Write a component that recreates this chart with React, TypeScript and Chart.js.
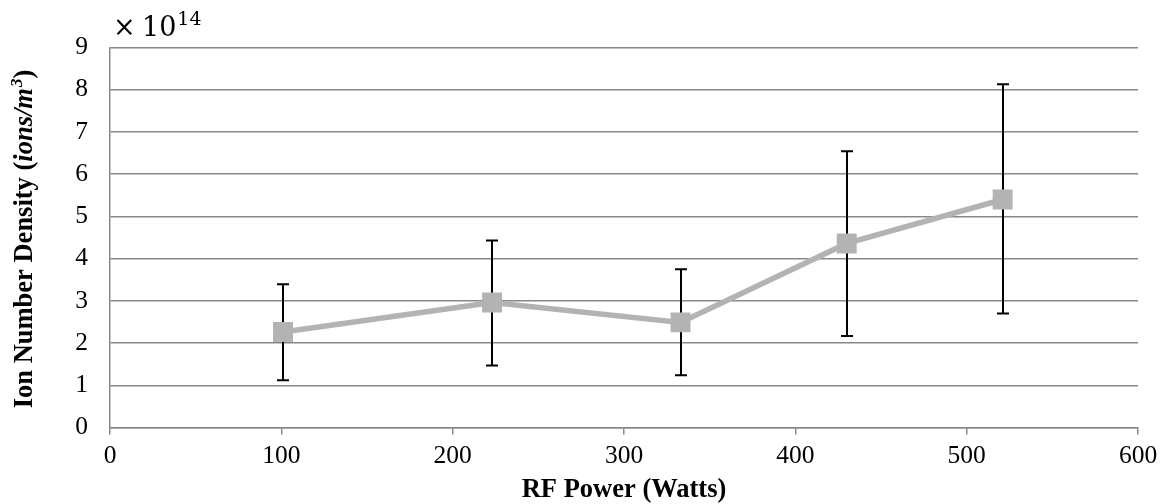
import React, { useEffect, useRef } from "react";
import { Chart, registerables } from "chart.js";

Chart.register(...registerables);

// ---- data ----
const rfPower = [101, 223, 333, 430, 521];
const ionDensity = [2.26, 2.96, 2.49, 4.36, 5.4];
const errorUpper = [3.39, 4.43, 3.75, 6.54, 8.13];
const errorLower = [1.12, 1.47, 1.24, 2.17, 2.7];
const xTickValues = [0, 100, 200, 300, 400, 500, 600];
const yTickValues = [0, 1, 2, 3, 4, 5, 6, 7, 8, 9];
const xTitle = "RF Power (Watts)";
const yTitleLead = "Ion Number Density (";
const yTitleUnit = "ions/m";
const yTitleUnitPower = "3";
const yTitleTail = ")";
const exponentTimes = "\u00d7";
const exponentBase = "10";
const exponentPower = "14";

const SERIF = '"Liberation Serif", "Times New Roman", serif';

const errorBarPlugin = {
  id: "errorBars",
  beforeDatasetsDraw(chart: any) {
    const { ctx, scales } = chart;
    const xs = scales.x;
    const ys = scales.y;
    ctx.save();
    ctx.strokeStyle = "#000";
    ctx.lineWidth = 2;
    for (let i = 0; i < rfPower.length; i++) {
      const x = Math.round(xs.getPixelForValue(rfPower[i]));
      const yt = ys.getPixelForValue(errorUpper[i]);
      const yb = ys.getPixelForValue(errorLower[i]);
      ctx.beginPath();
      ctx.moveTo(x, yt);
      ctx.lineTo(x, yb);
      ctx.moveTo(x - 6, yt);
      ctx.lineTo(x + 6, yt);
      ctx.moveTo(x - 6, yb);
      ctx.lineTo(x + 6, yb);
      ctx.stroke();
    }
    ctx.restore();
  },
};

const titlesPlugin = {
  id: "titles",
  afterDraw(chart: any) {
    const { ctx, chartArea } = chart;
    ctx.save();
    ctx.fillStyle = "#000";
    // x title
    ctx.font = `bold 26.5px ${SERIF}`;
    ctx.textAlign = "center";
    ctx.textBaseline = "alphabetic";
    ctx.fillText(xTitle, (chartArea.left + chartArea.right) / 2, 497);

    // y title (rotated, mixed styles)
    const bold = `bold 26.5px ${SERIF}`;
    const boldItalic = `italic bold 26.5px ${SERIF}`;
    const sup = `italic bold 17px ${SERIF}`;
    ctx.font = bold;
    const w1 = ctx.measureText(yTitleLead).width;
    const w4 = ctx.measureText(yTitleTail).width;
    ctx.font = boldItalic;
    const w2 = ctx.measureText(yTitleUnit).width;
    ctx.font = sup;
    const w3 = ctx.measureText(yTitleUnitPower).width;
    const total = w1 + w2 + w3 + w4;
    ctx.translate(32, (chartArea.top + chartArea.bottom) / 2 + 2);
    ctx.rotate(-Math.PI / 2);
    ctx.textAlign = "left";
    let cx = -total / 2;
    ctx.font = bold;
    ctx.fillText(yTitleLead, cx, 0);
    cx += w1;
    ctx.font = boldItalic;
    ctx.fillText(yTitleUnit, cx, 0);
    cx += w2 + 1;
    ctx.font = sup;
    ctx.fillText(yTitleUnitPower, cx, -10);
    cx += w3;
    ctx.font = bold;
    ctx.fillText(yTitleTail, cx, 0);
    ctx.restore();

    // exponent label
    ctx.save();
    ctx.fillStyle = "#000";
    ctx.textAlign = "left";
    ctx.textBaseline = "alphabetic";
    ctx.font = `27px "DejaVu Serif", serif`;
    ctx.fillText(exponentTimes, 113, 36);
    ctx.fillText(exponentBase, 142, 36);
    const wb = ctx.measureText(exponentBase).width;
    ctx.font = `19px "DejaVu Serif", serif`;
    ctx.fillText(exponentPower, 142 + wb + 1, 25);
    ctx.restore();
  },
};

export default function App() {
  const canvasRef = useRef<HTMLCanvasElement | null>(null);

  useEffect(() => {
    const canvas = canvasRef.current;
    if (!canvas) return;
    const chart = new Chart(canvas, {
      type: "line",
      data: {
        datasets: [
          {
            data: rfPower.map((p, i) => ({ x: p, y: ionDensity[i] })),
            borderColor: "#b3b3b3",
            backgroundColor: "#b3b3b3",
            borderWidth: 5.5,
            pointStyle: "rect",
            pointRadius: 14.1,
            pointBorderWidth: 0,
            pointBackgroundColor: "#b3b3b3",
            tension: 0,
          },
        ],
      },
      options: {
        animation: false,
        responsive: false,
        devicePixelRatio: 1,
        layout: { padding: { top: 47.5, right: 32, left: 0, bottom: 0 } },
        plugins: {
          legend: { display: false },
          tooltip: { enabled: false },
          title: { display: false },
        },
        scales: {
          x: {
            type: "linear",
            min: 0,
            max: 600,
            afterBuildTicks: (scale: any) => {
              scale.ticks = xTickValues.map((v) => ({ value: v }));
            },
            afterFit: (scale: any) => {
              scale.height = 76.5;
            },
            ticks: {
              color: "#000",
              font: { family: SERIF, size: 25.5 },
              padding: 6,
              maxRotation: 0,
            },
            grid: {
              drawOnChartArea: false,
              drawTicks: true,
              tickLength: 7,
              color: "#888",
              lineWidth: 1.5,
            },
            border: { display: true, color: "#888", width: 1.5 },
          },
          y: {
            type: "linear",
            min: 0,
            max: 9,
            afterBuildTicks: (scale: any) => {
              scale.ticks = yTickValues.map((v) => ({ value: v }));
            },
            afterFit: (scale: any) => {
              scale.width = 110;
            },
            ticks: {
              color: "#000",
              font: { family: SERIF, size: 25.5 },
              padding: 22,
            },
            grid: {
              drawTicks: false,
              color: "#888",
              lineWidth: 1.5,
            },
            border: { display: true, color: "#888", width: 1.5 },
          },
        },
      },
      plugins: [errorBarPlugin, titlesPlugin],
    });
    return () => chart.destroy();
  }, []);

  return (
    <div style={{ position: "absolute", left: 0, top: 0, width: 1170, height: 504, background: "#fff" }}>
      <canvas ref={canvasRef} width={1170} height={504} style={{ display: "block" }} />
    </div>
  );
}
